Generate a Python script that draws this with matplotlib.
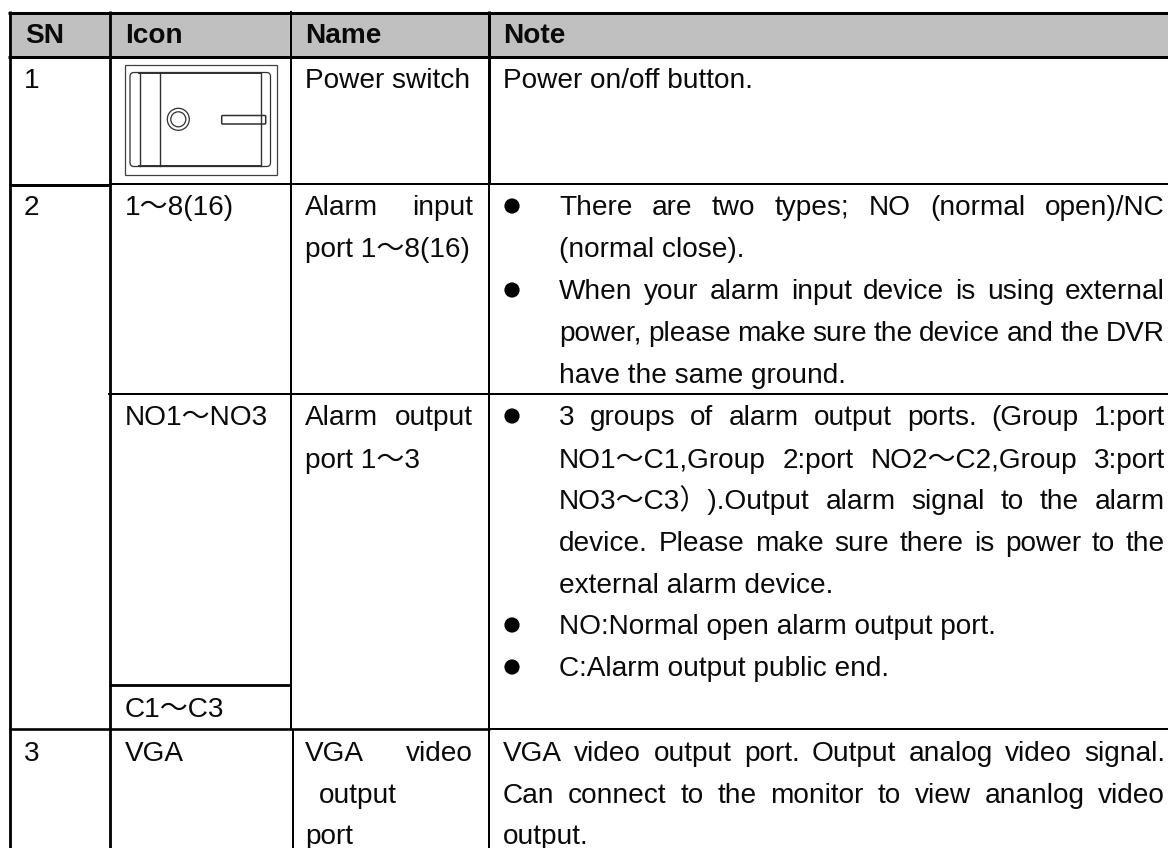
import matplotlib
matplotlib.use("Agg")
import matplotlib.pyplot as plt
from matplotlib.patches import Rectangle, FancyBboxPatch, Circle

FONT = ['Liberation Sans', 'Noto Sans CJK SC']
FS = 28 * 0.72

headers = ["SN", "Icon", "Name", "Note"]
header_x = [25, 125, 305, 503]

plain_cells = [
    ("1", 24, 88), ("2", 24, 215), ("3", 24, 761),
    ("1～8(16)", 125, 215), ("NO1～NO3", 125, 425), ("C1～C3", 125, 717), ("VGA", 125, 761),
    ("Power switch", 305, 88), ("port 1～8(16)", 305, 257), ("port 1～3", 305, 468),
    ("output", 319, 803), ("port", 305, 844),
    ("Power on/off button.", 503, 88),
    ("(normal close).", 559, 257), ("have the same ground.", 559, 383),
    ("external alarm device.", 559, 593),
    ("NO:Normal open alarm output port.", 559, 634),
    ("C:Alarm output public end.", 559, 676),
    ("output.", 503, 844),
]
# text, left, right, baseline
justified_cells = [
    ("Alarm input", 305, 473, 215),
    ("Alarm output", 305, 473, 425),
    ("VGA video", 305, 473, 761),
    ("There are two types; NO (normal open)/NC", 559, 1165, 215),
    ("When your alarm input device is using external", 559, 1165, 299),
    ("power, please make sure the device and the DVR", 559, 1165, 341),
    ("3 groups of alarm output ports. (Group 1:port", 559, 1165, 425),
    ("NO1～C1,Group 2:port NO2～C2,Group 3:port", 559, 1165, 468),
    ("NO3～C3）).Output alarm signal to the alarm", 559, 1165, 509),
    ("device. Please make sure there is power to the", 559, 1165, 551),
    ("VGA video output port. Output analog video signal.", 503, 1165, 761),
    ("Can connect to the monitor to view ananlog video", 503, 1165, 803),
]
bullet_baselines = [215, 299, 425, 634, 676]

# (y, x0, x1, width px)
h_rules = [
    (12.5, 8, 1168, 3), (56.5, 8, 1168, 3),
    (183.5, 109, 1168, 2), (184.5, 8.5, 110, 3),
    (394, 108, 1168, 2), (684.7, 109, 291, 2.8),
    (729, 8.5, 490, 2.6), (729, 488, 1168, 2),
]
# (x, y0, y1, width px)
v_rules = [
    (9.7, 11, 848, 2.8), (109.5, 11, 848, 2.8),
    (290.5, 11, 729, 2), (292.7, 729, 848, 2),
    (488.7, 11, 184, 3), (488.7, 184, 848, 2),
]

fig = plt.figure(figsize=(11.68, 8.48), dpi=100)
ax = fig.add_axes([0, 0, 1, 1])
ax.set_xlim(0, 1168)
ax.set_ylim(848, 0)
ax.axis('off')
renderer = fig.canvas.get_renderer()

ax.add_patch(Rectangle((9, 13), 1159, 43, fc='#c0c0c0', ec='none', zorder=0))


def txt(s, x, y, **kw):
    return ax.text(x, y, s, family=FONT, fontsize=FS, color='#0a0a0a',
                   va='baseline', ha='left', **kw)


for h, x in zip(headers, header_x):
    txt(h, x, 43, fontweight='bold')
for s, x, y in plain_cells:
    txt(s, x, y)

for s, left, right, y in justified_cells:
    words = s.split(' ')
    artists = [txt(w, left, y) for w in words]
    widths = [a.get_window_extent(renderer).width for a in artists]
    gap = (right - left - sum(widths)) / (len(words) - 1)
    x = left
    for a, w in zip(artists, widths):
        a.set_x(x)
        x += w + gap

for y in bullet_baselines:
    ax.add_patch(Circle((512, y - 9), 7.6, fc='black', ec='none'))

for y, x0, x1, w in h_rules:
    ax.plot([x0, x1], [y, y], color='black', lw=w * 0.72, solid_capstyle='butt')
for x, y0, y1, w in v_rules:
    ax.plot([x, x], [y0, y1], color='black', lw=w * 0.72, solid_capstyle='butt')

# Power switch icon
ic = '#303030'
ax.add_patch(Rectangle((124.5, 65), 152, 109.5, fc='none', ec='#404040', lw=0.9))
ax.add_patch(FancyBboxPatch((130, 72.5), 140.5, 94, boxstyle='round,pad=0,rounding_size=4',
                            fc='none', ec=ic, lw=0.9))
ax.plot([139, 261], [73, 73], color=ic, lw=1.4)
ax.plot([139, 261], [165.5, 165.5], color=ic, lw=1.4)
for x in (139.5, 160, 260.7):
    ax.plot([x, x], [73, 166], color=ic, lw=1.0)
ax.add_patch(Circle((178.3, 119.3), 11, fc='none', ec=ic, lw=0.9))
ax.add_patch(Circle((178.3, 119.3), 7.5, fc='none', ec=ic, lw=0.9))
ax.add_patch(FancyBboxPatch((221.7, 115.5), 44, 8.5, boxstyle='round,pad=0,rounding_size=1',
                            fc='none', ec=ic, lw=1.1))

fig.savefig('out.png', dpi=100, facecolor='white')
